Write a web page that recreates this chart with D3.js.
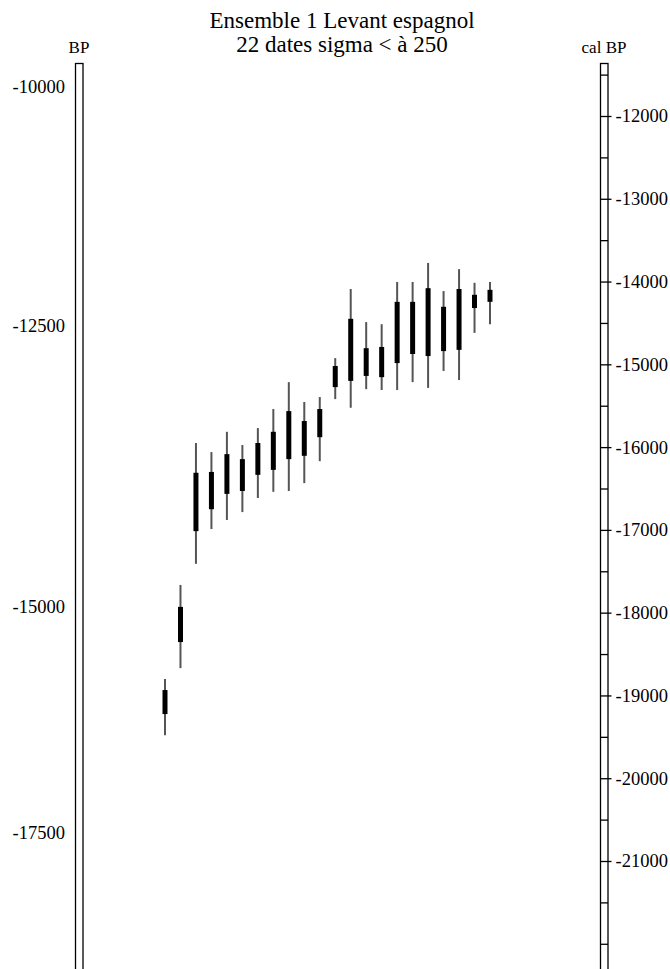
<!DOCTYPE html>
<html>
<head>
<meta charset="utf-8">
<script src="https://cdn.jsdelivr.net/npm/d3@7"></script>
<style>
  body { margin: 0; background: white; }
  svg text { font-family: "Liberation Serif", "DejaVu Serif", serif; fill: black; }
</style>
</head>
<body>
<div id="canvas"></div>
<script>
"use strict"

// order of the 22 dates, left to right
let dateOrder = ["1", "2", "3", "4", "5", "6", "7", "8", "9", "10", "11",
                 "12", "13", "14", "15", "16", "17", "18", "19", "20", "21", "22"];

// calibrated ranges, cal BP (2 sigma = thin line, 1 sigma = thick bar)
let sigma2Top    = [-18800, -17665, -15950, -16060, -15815, -15975, -15770, -15540, -15215, -15455, -15395,
                    -14925, -14090, -14490, -14515, -14005, -14005, -13775, -14115, -13850, -14015, -14005];
let sigma1Top    = [-18935, -17930, -16310, -16300, -16085, -16145, -15950, -15815, -15565, -15685, -15540,
                    -15020, -14450, -14805, -14790, -14245, -14245, -14080, -14305, -14090, -14160, -14100];
let sigma1Bottom = [-19225, -18355, -17015, -16750, -16565, -16530, -16335, -16275, -16145, -16105, -15880,
                    -15275, -15200, -15140, -15155, -14985, -14875, -14900, -14840, -14825, -14320, -14245];
let sigma2Bottom = [-19480, -18670, -17410, -16990, -16880, -16785, -16615, -16540, -16530, -16435, -16170,
                    -15420, -15525, -15300, -15310, -15310, -15215, -15285, -15080, -15190, -14620, -14515];

// tick labels
let bpTicks = [-10000, -12500, -15000, -17500];
let calMajorTicks = [-12000, -13000, -14000, -15000, -16000, -17000, -18000, -19000, -20000, -21000];
let calMinorTicks = [-11500, -12500, -13500, -14500, -15500, -16500, -17500, -18500, -19500, -20500, -21500, -22000];

let titleLines = ["Ensemble 1 Levant espagnol", "22 dates sigma < à 250"];

let drawing = d3.select("#canvas")
    .append("svg")
    .attr("width", 670)
    .attr("height", 969);

// scales
let xScale = d3.scalePoint()
    .domain(dateOrder)
    .range([165, 490]);

let yCal = d3.scaleLinear()
    .domain([-12000, -21000])
    .range([116, 861]);

// the BP scale on the left is not even, so piecewise
let yBP = d3.scaleLinear()
    .domain([-10000, -12500, -15000, -17500])
    .range([87, 326, 607, 833]);

// plain hyphen, like the original labels
let hyphenFormat = d => String(d);

// title
drawing.selectAll(".title")
    .data(titleLines)
    .enter()
    .append("text")
    .attr("class", "title")
    .attr("x", 342)
    .attr("y", (d, i) => 28 + i * 24)
    .attr("text-anchor", "middle")
    .attr("font-size", 23)
    .text(d => d);

// left BP column
drawing.append("rect")
    .attr("x", 75.5)
    .attr("y", 63.5)
    .attr("width", 7.5)
    .attr("height", 920)
    .attr("fill", "none")
    .attr("stroke", "black")
    .attr("stroke-width", 1.3);

drawing.append("text")
    .attr("x", 79)
    .attr("y", 53)
    .attr("text-anchor", "middle")
    .attr("font-size", 17)
    .text("BP");

let bpAxis = drawing.append("g")
    .attr("transform", "translate(75,0)")
    .call(d3.axisLeft(yBP).tickValues(bpTicks).tickSize(0).tickPadding(10).tickFormat(hyphenFormat));

bpAxis.select(".domain").remove();
bpAxis.selectAll("text")
    .style("font-family", "'Liberation Serif', serif")
    .style("font-size", "18.5px");

// right cal BP column
drawing.append("rect")
    .attr("x", 600.5)
    .attr("y", 63.5)
    .attr("width", 7.5)
    .attr("height", 920)
    .attr("fill", "none")
    .attr("stroke", "black")
    .attr("stroke-width", 1.3);

drawing.append("text")
    .attr("x", 604)
    .attr("y", 53)
    .attr("text-anchor", "middle")
    .attr("font-size", 17)
    .text("cal BP");

// minor ticks only cross the column
let calMinor = drawing.append("g")
    .attr("transform", "translate(600.5,0)")
    .call(d3.axisRight(yCal).tickValues(calMinorTicks).tickSize(7.5).tickFormat(""));

calMinor.select(".domain").remove();
calMinor.selectAll("line").attr("stroke-width", 1.3);

// major ticks stick out a bit on the right
let calMajor = drawing.append("g")
    .attr("transform", "translate(600.5,0)")
    .call(d3.axisRight(yCal).tickValues(calMajorTicks).tickSize(11).tickPadding(4).tickFormat(hyphenFormat));

calMajor.select(".domain").remove();
calMajor.selectAll("line").attr("stroke-width", 1.3);
calMajor.selectAll("text")
    .style("font-family", "'Liberation Serif', serif")
    .style("font-size", "18.5px");

// 2 sigma lines
drawing.selectAll(".sigma2")
    .data(dateOrder)
    .enter()
    .append("line")
    .attr("class", "sigma2")
    .attr("x1", d => xScale(d))
    .attr("x2", d => xScale(d))
    .attr("y1", (d, i) => yCal(sigma2Top[i]))
    .attr("y2", (d, i) => yCal(sigma2Bottom[i]))
    .attr("stroke", "#555")
    .attr("stroke-width", 2);

// 1 sigma bars
drawing.selectAll(".sigma1")
    .data(dateOrder)
    .enter()
    .append("line")
    .attr("class", "sigma1")
    .attr("x1", d => xScale(d))
    .attr("x2", d => xScale(d))
    .attr("y1", (d, i) => yCal(sigma1Top[i]))
    .attr("y2", (d, i) => yCal(sigma1Bottom[i]))
    .attr("stroke", "black")
    .attr("stroke-width", 5);
</script>
</body>
</html>
